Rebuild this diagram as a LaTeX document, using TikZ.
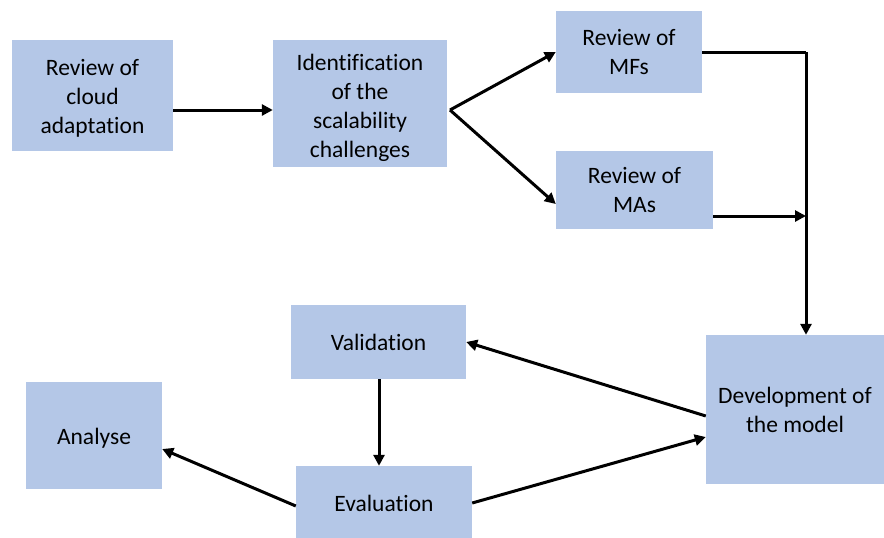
\documentclass[tikz,border=0pt]{standalone}
\usepackage{fontspec}
\setmainfont{Carlito}[Ligatures={NoCommon}]
\usetikzlibrary{arrows.meta,calc}
\definecolor{boxfill}{HTML}{B4C7E7}
\begin{document}
\begin{tikzpicture}[x=1pt,y=-1pt,
  box/.style={fill=boxfill,draw=none,inner sep=0pt,align=center,
    font=\fontsize{23.5}{29}\selectfont},
  boxtext/.style={box,fill=none},
  arrow/.style={line width=3pt,-{Triangle[length=11pt,width=11pt]}},
  plain/.style={line width=3pt}]
\useasboundingbox (0,0) rectangle (884,538);
% process boxes: centre, width, height; some texts sit a little low in their box
\node[box,minimum width=161,minimum height=111] (cloud) at (92.5,95.5) {};
\node[boxtext] (cloudtext) at (92.5,98) {Review of\\cloud\\adaptation};
\node[box,minimum width=174,minimum height=127] (ident) at (360,103.5) {};
\node[boxtext] (identtext) at (360,108) {Identification\\of the\\scalability\\challenges};
\node[box,minimum width=146,minimum height=82] (mf) at (629,52) {Review of\\MFs};
\node[box,minimum width=157,minimum height=78] (ma) at (634.5,190) {Review of\\MAs};
\node[box,minimum width=178,minimum height=149] (dev) at (795,409.5) {Development of\\the model};
\node[box,minimum width=175,minimum height=74] (val) at (378.5,342) {Validation};
\node[box,minimum width=136,minimum height=107] (ana) at (94,435.5) {};
\node[boxtext] (anatext) at (94,438) {Analyse};
\node[box,minimum width=176,minimum height=74] (eval) at (384,503) {Evaluation};
% connectors
\coordinate (fork) at (450,110);
\coordinate (bus) at (806,52);
\draw[arrow] (cloud.east |- 0,110) -- (ident.west |- 0,110);
\draw[arrow] (fork) -- (mf.west);
\draw[arrow] (fork) -- ($(ma.west)+(0,14)$);
\draw[plain] (mf.east) -- (bus);
\draw[arrow] (bus) -- (bus |- dev.north);
\draw[arrow] ($(ma.east)+(0,26)$) -- (bus |- 0,216);
\draw[arrow] ($(dev.west)+(0,6.5)$) -- (val.east);
\draw[arrow] (val.south -| 379,0) -- (eval.north -| 379,0);
\draw[arrow] (eval.east) -- ($(dev.west)+(0,27.5)$);
\draw[arrow] ($(eval.west)+(0,3)$) -- ($(ana.east)+(0,13.5)$);
\end{tikzpicture}
\end{document}
